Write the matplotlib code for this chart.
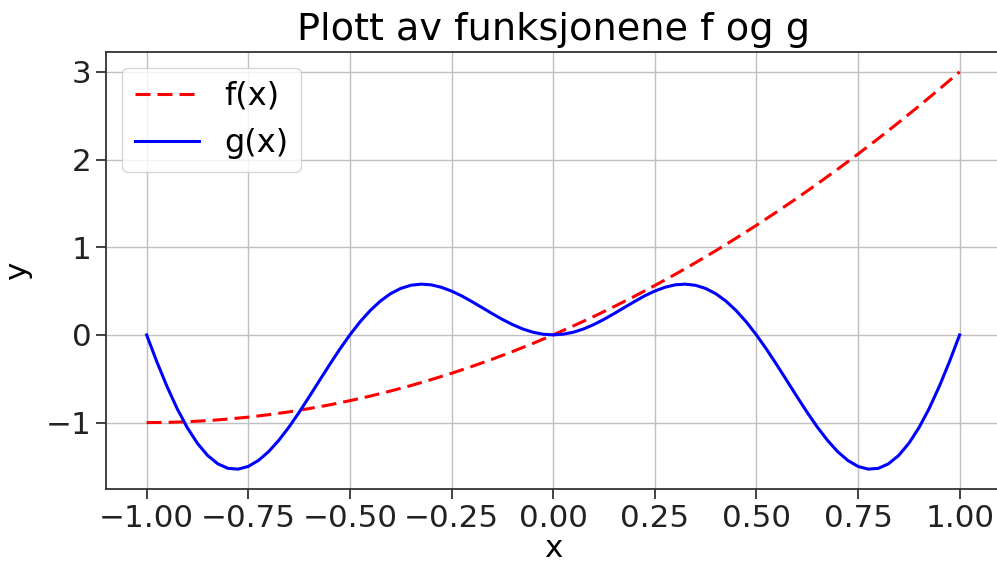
import matplotlib
matplotlib.use('Agg')
import matplotlib.pyplot as plt

# f(x)
x_f = [-1.00, -0.95, -0.90, -0.85, -0.80, -0.75, -0.70, -0.65, -0.60, -0.55,
       -0.50, -0.45, -0.40, -0.35, -0.30, -0.25, -0.20, -0.15, -0.10, -0.05,
       0.00, 0.05, 0.10, 0.15, 0.20, 0.25, 0.30, 0.35, 0.40, 0.45,
       0.50, 0.55, 0.60, 0.65, 0.70, 0.75, 0.80, 0.85, 0.90, 0.95, 1.00]
y_f = [-1.000, -0.998, -0.990, -0.978, -0.960, -0.938, -0.910, -0.878, -0.840, -0.798,
       -0.750, -0.698, -0.640, -0.578, -0.510, -0.438, -0.360, -0.278, -0.190, -0.098,
       0.000, 0.103, 0.210, 0.323, 0.440, 0.563, 0.690, 0.823, 0.960, 1.103,
       1.250, 1.403, 1.560, 1.723, 1.890, 2.063, 2.240, 2.423, 2.610, 2.803, 3.000]

# g(x)
x_g = [-1.000, -0.975, -0.950, -0.925, -0.900, -0.875, -0.850, -0.825, -0.800, -0.775,
       -0.750, -0.725, -0.700, -0.675, -0.650, -0.625, -0.600, -0.575, -0.550, -0.525,
       -0.500, -0.475, -0.450, -0.425, -0.400, -0.375, -0.350, -0.325, -0.300, -0.275,
       -0.250, -0.225, -0.200, -0.175, -0.150, -0.125, -0.100, -0.075, -0.050, -0.025,
       0.000, 0.025, 0.050, 0.075, 0.100, 0.125, 0.150, 0.175, 0.200, 0.225,
       0.250, 0.275, 0.300, 0.325, 0.350, 0.375, 0.400, 0.425, 0.450, 0.475,
       0.500, 0.525, 0.550, 0.575, 0.600, 0.625, 0.650, 0.675, 0.700, 0.725,
       0.750, 0.775, 0.800, 0.825, 0.850, 0.875, 0.900, 0.925, 0.950, 0.975, 1.000]
y_g = [0.000, -0.305, -0.587, -0.840, -1.058, -1.237, -1.375, -1.470, -1.522, -1.531,
       -1.500, -1.432, -1.332, -1.203, -1.052, -0.884, -0.705, -0.522, -0.340, -0.164,
       0.000, 0.149, 0.278, 0.386, 0.470, 0.530, 0.566, 0.579, 0.571, 0.543,
       0.500, 0.445, 0.380, 0.312, 0.243, 0.177, 0.118, 0.068, 0.031, 0.008,
       0.000, 0.008, 0.031, 0.068, 0.118, 0.177, 0.243, 0.312, 0.380, 0.445,
       0.500, 0.543, 0.571, 0.579, 0.566, 0.530, 0.470, 0.386, 0.278, 0.149,
       0.000, -0.164, -0.340, -0.522, -0.705, -0.884, -1.052, -1.203, -1.332, -1.432,
       -1.500, -1.531, -1.522, -1.470, -1.375, -1.237, -1.058, -0.840, -0.587, -0.305, 0.000]

plt.rcParams['font.size'] = 22.3
plt.rcParams['axes.edgecolor'] = '#333333'
plt.rcParams['axes.linewidth'] = 1.3
plt.rcParams['xtick.major.size'] = 7
plt.rcParams['ytick.major.size'] = 7
plt.rcParams['xtick.major.width'] = 1.3
plt.rcParams['ytick.major.width'] = 1.3
plt.rcParams['xtick.color'] = '#333333'
plt.rcParams['ytick.color'] = '#333333'
plt.rcParams['xtick.labelcolor'] = '#222222'
plt.rcParams['ytick.labelcolor'] = '#222222'

fig = plt.figure(figsize=(9.97, 5.69), dpi=100)
# høyre kant ligger litt utenfor bildet, som i originalen
ax = fig.add_axes([0.1063, 0.1406, 0.897, 0.768])

ax.plot(x_f, y_f, 'r--', linewidth=2.2, dashes=(4.9, 2.3), label='f(x)')
ax.plot(x_g, y_g, 'b-', linewidth=2.2, label='g(x)')

ax.grid(True, linewidth=1.0, color='#c0c0c0')
ax.set_title('Plott av funksjonene f og g', fontsize=27.5, pad=9)
ax.set_xlabel('x', labelpad=1)
ax.set_ylabel('y', labelpad=10)
ax.legend(loc='upper left', fontsize=23)

fig.savefig('out.png', dpi=100)
